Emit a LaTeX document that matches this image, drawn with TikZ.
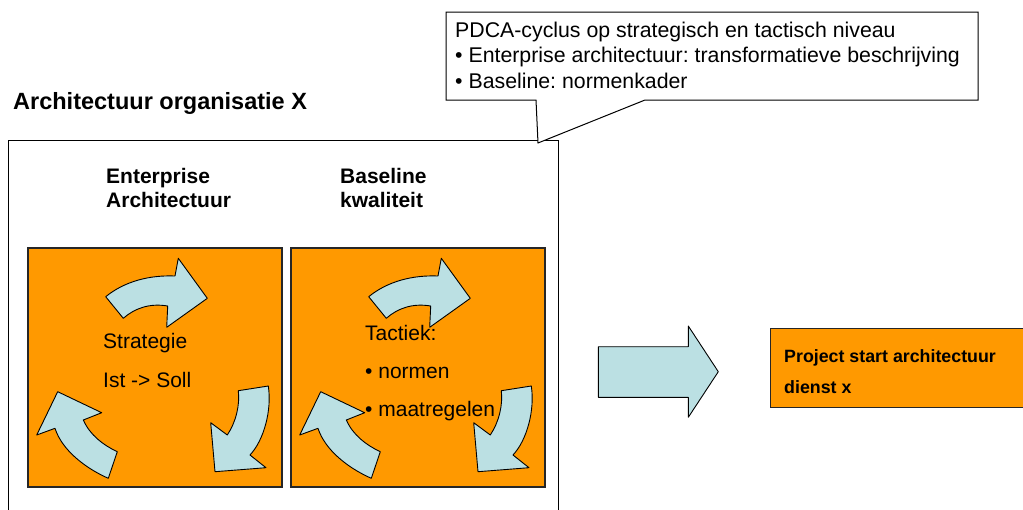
\documentclass[tikz,border=0pt]{standalone}
\usepackage{fontspec}
\setmainfont{Liberation Sans}
\frenchspacing
\definecolor{orng}{HTML}{FF9900}
\definecolor{lblue}{HTML}{BBE0E3}
\newcommand{\pdcaarrows}{%
  % top arrow
  \draw[cyc] (105.7,296.7) .. controls (125,281) and (150,275) .. (175,276)
    -- (178.3,258.3) -- (207.3,298.3) -- (166.7,327.3) -- (167.7,306)
    .. controls (150,303) and (135,308) .. (123.3,318.3) -- cycle;
  % bottom-right arrow
  \draw[cyc] (268.3,386) .. controls (272,410) and (264,440) .. (250,455)
    -- (266,467.7) -- (215,471.7) -- (210.7,422.7) -- (227.3,435)
    .. controls (236,422) and (240,405) .. (238.3,390.7) -- cycle;
  % bottom-left arrow
  \draw[cyc] (108.3,478.3) .. controls (85,468) and (62,450) .. (55,428.3)
    -- (36.7,435) -- (57.7,391.7) -- (101.7,412.7) -- (83.3,420)
    .. controls (90,435) and (103,445) .. (117.3,451.7) -- cycle;
}
\begin{document}
\begin{tikzpicture}[x=1pt,y=-1pt,
  frame/.style={draw=black,line width=1pt},
  obox/.style={draw=black!85,line width=1.4pt,fill=orng},
  cyc/.style={draw=black,line width=0.9pt,fill=lblue,line join=round},
  txt/.style={inner sep=0pt,anchor=base west,text=black},
  ttl/.style={txt,font=\fontsize{23.5}{28}\bfseries\selectfont},
  sub/.style={txt,font=\fontsize{21}{24}\bfseries\selectfont},
  body/.style={txt,font=\fontsize{21}{24}\selectfont},
  call/.style={txt,font=\fontsize{21.3}{25}\selectfont},
  proj/.style={txt,font=\fontsize{17.8}{20}\bfseries\selectfont}
]
\useasboundingbox[fill=white] (0,0) rectangle (1023,509);

% title
\node[ttl] (title) at (13,109) {Architectuur organisatie X};

% outer frame (continues below the picture)
\draw[frame] (8,520) -- (8,140) -- (558,140) -- (558,520);

% callout
\draw[frame,fill=white,line join=miter] (446,12) -- (978,12) -- (978,100) -- (645,100)
  -- (538,143) -- (536,100) -- (446,100) -- cycle;
\node[call] (c1) at (455,37) {PDCA-cyclus op strategisch en tactisch niveau};
\node[call] (c2) at (455,62.5) {• Enterprise architectuur: transformatieve beschrijving};
\node[call] (c3) at (455,88) {• Baseline: normenkader};

% column headings
\node[sub] (ea1) at (106,183) {Enterprise};
\node[sub] (ea2) at (106,207) {Architectuur};
\node[sub] (bl1) at (340,183) {Baseline};
\node[sub] (bl2) at (340,207) {kwaliteit};

% orange boxes
\draw[obox] (28,248) rectangle (282,487);
\draw[obox] (291,248) rectangle (545,487);

\pdcaarrows
\begin{scope}[xshift=263pt]
\pdcaarrows
\end{scope}

\node[body] (s1) at (103,348.3) {Strategie};
\node[body] (s2) at (103,387.3) {Ist -> Soll};
\node[body] (t1) at (365,340) {Tactiek:};
\node[body] (t2) at (365,378) {• normen};
\node[body] (t3) at (365,416) {• maatregelen};

% block arrow
\draw[cyc] (598.3,346.7) -- (688.3,346.7) -- (688.3,326) -- (718.3,371.7)
  -- (688.3,417.3) -- (688.3,397.3) -- (598.3,397.3) -- cycle;

% project box
\draw[obox] (770.7,328.3) rectangle (1030,407.3);
\node[proj] (p1) at (784,362.7) {Project start architectuur};
\node[proj] (p2) at (784,393.3) {dienst x};
\end{tikzpicture}
\end{document}
